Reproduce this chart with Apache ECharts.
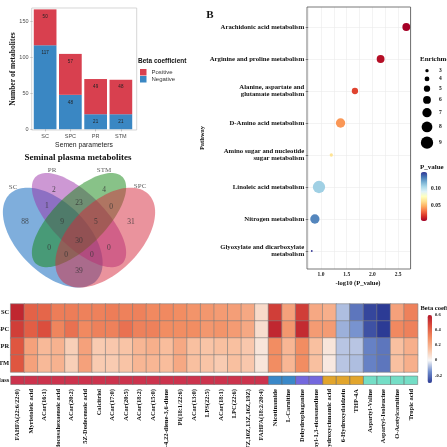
<!DOCTYPE html>
<html><head><meta charset="utf-8">
<script src="https://cdn.jsdelivr.net/npm/echarts@6/dist/echarts.min.js"></script>
<style>html,body{margin:0;padding:0;background:#fff}#c{width:447px;height:447px}</style>
</head><body><div id="c"></div>
<script>
// ---------- DATA ----------
// Panel A: stacked bars
const semenParams = ['SC', 'SPC', 'PR', 'STM'];
const negativeCounts = [117, 48, 21, 21];
const positiveCounts = [50, 57, 49, 48];
const barYTicks = [0, 50, 100, 150];

// Venn diagram
const vennSets = ['SC', 'PR', 'STM', 'SPC'];
const vennRegions = ['SC', 'PR', 'STM', 'SPC', 'SC&PR', 'PR&STM', 'STM&SPC', 'SC&PR&STM', 'PR&STM&SPC',
  'SC&PR&STM&SPC', 'SC&STM', 'PR&SPC', 'SC&STM&SPC', 'SC&PR&SPC', 'SC&SPC'];
const vennCounts = [88, 2, 4, 31, 1, 23, 0, 9, 5, 30, 0, 0, 0, 0, 39];

// Panel B: pathway enrichment
const pathways = ['Arachidonic acid metabolism', 'Arginine and proline metabolism',
  'Alanine, aspartate and\nglutamate metabolism', 'D-Amino acid metabolism',
  'Amino sugar and nucleotide\nsugar metabolism', 'Linoleic acid metabolism',
  'Nitrogen metabolism', 'Glyoxylate and dicarboxylate\nmetabolism'];
const negLog10P = [2.66, 2.16, 1.66, 1.38, 1.20, 0.96, 0.88, 0.82];
const enrichment = [6, 6, 5, 7, 3, 9, 7, 2];
const enrichmentLegend = [3, 4, 5, 6, 7, 8, 9];
const pLegendTicks = [0.10, 0.05];

// Heatmap
const metabolites = ['FAHFA(22:6/22:0)', 'Myristoleic acid', 'ACar(16:1)', '4-Hydroxydocosahexaenoic acid',
  'ACar(20:2)', '5Z-Dodecenoic acid', 'Calcitriol', 'ACar(17:0)', 'ACar(20:5)', 'ACar(18:2)',
  'ACar(15:0)', 'Cholesta-4,22-diene-3,6-dione', 'PI(18:1/22:6)', 'ACar(13:0)', 'LPS(22:5)',
  'ACar(18:1)', 'LPC(22:6)', 'LysoPC(4Z,7Z,10Z,13Z,16Z,19Z)', 'FAHFA(18:2/20:4)', 'Nicotinamide',
  'L-Carnitine', 'Dehydrophaganine', '1-Phenyl-1,3-eicosanedione', '4-Hydroxycinnamic acid',
  '6-Hydroxydaidzein', 'THP-4A', 'Aspartyl-Valine', 'Aspartyl-Isoleucine', 'O-Acetylcarnitine', 'Tropic acid'];
const heatRows = ['SC', 'SPC', 'PR', 'STM'];
const betaSC  = [0.56, 0.41, 0.40, 0.34, 0.34, 0.33, 0.33, 0.34, 0.33, 0.33, 0.31, 0.31, 0.30, 0.28, 0.27,
  0.26, 0.25, 0.22, 0.08, 0.50, 0.24, 0.50, 0.22, 0.20, -0.08, -0.19, -0.28, -0.30, 0.24, 0.33];
const betaSPC = [0.50, 0.42, 0.46, 0.32, 0.37, 0.31, 0.33, 0.33, 0.37, 0.33, 0.33, 0.30, 0.30, 0.30, 0.27,
  0.28, 0.26, 0.22, 0.07, 0.56, 0.27, 0.55, 0.26, 0.26, -0.10, -0.14, -0.26, -0.30, 0.31, 0.33];
const betaPR  = [0.44, 0.24, 0.17, 0.19, 0.11, 0.24, 0.12, 0.13, 0.14, 0.18, 0.20, 0.16, 0.22, 0.15, 0.14,
  0.15, 0.15, 0.13, 0.05, 0.30, 0.18, 0.30, 0.15, 0.05, -0.07, -0.07, -0.17, -0.19, 0.15, 0.20];
const betaSTM = [0.44, 0.24, 0.17, 0.19, 0.11, 0.24, 0.12, 0.12, 0.14, 0.18, 0.18, 0.16, 0.22, 0.15, 0.14,
  0.12, 0.15, 0.13, 0.05, 0.30, 0.18, 0.30, 0.15, 0.04, -0.07, -0.08, -0.17, -0.19, 0.15, 0.20];
const classNames = ['Lipids and lipid-like molecules', 'Organoheterocyclic compounds', 'Organic oxygen compounds',
  'Phenylpropanoids and polyketides', 'Organic acids and derivatives'];
const metaboliteClass = [0,0,0,0,0,0,0,0,0,0,0,0,0,0,0,0,0,0,0,1,1,2,2,3,3,3,4,4,4,4];
const betaTicks = [0.6, 0.4, 0.2, 0, -0.2];

// ---------- STYLE / LAYOUT ----------
const SERIF = "'Liberation Serif','DejaVu Serif',serif";
const SANS = "'Liberation Sans','DejaVu Sans',sans-serif";
const classColors = ['#cc334d', '#3a88c8', '#7468de', '#e2a52c', '#74dec6'];
const vennColors = ['rgb(0,93,186)', 'rgb(155,50,170)', 'rgb(17,133,17)', 'rgb(213,40,60)'];
const vennOpacity = 0.5;
const vennEllipses = [ // unit coords: cx, cy, a, b, rotation(deg, y-up)
  [0.35, 0.47, 0.35, 0.20, 135], [0.50, 0.57, 0.35, 0.15, 135],
  [0.50, 0.57, 0.35, 0.15, 45], [0.65, 0.47, 0.35, 0.20, 45]];
const vennLabelPos = [[0.191,0.559],[0.357,0.742],[0.643,0.742],[0.797,0.559],[0.317,0.652],[0.5,0.667],
  [0.683,0.645],[0.403,0.559],[0.597,0.559],[0.5,0.453],[0.329,0.41],[0.671,0.41],[0.426,0.37],[0.574,0.368],[0.5,0.28]];
const vennSetPos = [[0.123,0.758],[0.346,0.856],[0.643,0.856],[0.849,0.765]];
const sizeOf = v => 1.5 * v - 1.2;
const heatColors = ['#2c3b95', '#6f8ccc', '#f7f7f7', '#f9c0a0', '#f28d62', '#de523e', '#b5172b'];
const rdylbu = ['#a50026','#d73027','#f46d43','#fdae61','#fee090','#ffffbf','#e0f3f8','#abd9e9','#74add1','#4575b4','#313695'];

const pValues = negLog10P.map(x => Math.pow(10, -x));
const pMin = Math.min(...pValues), pMax = Math.max(...pValues);

function txt(x, y, text, font, opts) {
  opts = opts || {};
  return {type: 'text', x: x, y: y, rotation: opts.rot || 0, silent: true,
    style: {text: text, font: font, fill: opts.color || '#111',
      align: opts.align || 'center', textAlign: opts.align || 'center',
      verticalAlign: 'middle', textVerticalAlign: 'middle'}};
}

const graphics = [
  {type: 'rect', shape: {x: 31.7, y: 8, width: 105, height: 122}, style: {fill: 'none', stroke: '#c4c4c4', lineWidth: 0.7}, z: 10, silent: true},
  {type: 'rect', shape: {x: 307, y: 7, width: 103.5, height: 262}, style: {fill: 'none', stroke: '#555', lineWidth: 0.8}, z: 10, silent: true},
  txt(13, 69, 'Number of metabolites', 'bold 7.5px ' + SERIF, {rot: Math.PI / 2}),
  txt(84, 145, 'Semen parameters', '6.8px ' + SANS, {color: '#222'}),
  txt(138, 61, 'Beta coefficient', 'bold 6.5px ' + SANS, {align: 'left'}),
  txt(78, 158, 'Seminal plasma metabolites', 'bold 9px ' + SERIF),
  txt(210, 15, 'B', 'bold 11px ' + SERIF),
  txt(202, 138, 'Pathway', 'bold 6.5px ' + SERIF, {rot: Math.PI / 2}),
  txt(358, 283.5, '-log10 (P_value)', 'bold 6.5px ' + SERIF),
  txt(420, 59, 'Enrichment', 'bold 7px ' + SERIF, {align: 'left'}),
  txt(420, 167, 'P_value', 'bold 7px ' + SERIF, {align: 'left'}),
  txt(420.5, 308, 'Beta coefficient', 'bold 6.5px ' + SERIF, {align: 'left'})
];
// size legend
let ly = 70.7;
enrichmentLegend.forEach((v, i) => {
  if (i > 0) ly += (sizeOf(enrichmentLegend[i - 1]) + sizeOf(v)) / 2 + 4.2;
  graphics.push({type: 'circle', shape: {cx: 427, cy: ly, r: sizeOf(v) / 2}, style: {fill: '#000'}, silent: true});
  graphics.push(txt(439, ly, String(v), 'bold 5.5px ' + SERIF, {align: 'left'}));
});
// P colorbar ticks
const pBar = {left: 420.7, top: 172, w: 6.6, h: 49};
pLegendTicks.forEach(v => {
  const y = pBar.top + (pMax - v) / (pMax - pMin) * pBar.h;
  graphics.push(txt(431, y, v.toFixed(2), 'bold 5.5px ' + SERIF, {align: 'left'}));
});
// beta colorbar ticks
const bBar = {left: 427.5, top: 315, w: 4.5, h: 68, min: -0.3, max: 0.6};
betaTicks.forEach(v => {
  const y = bBar.top + (bBar.max - v) / (bBar.max - bBar.min) * bBar.h;
  graphics.push(txt(435, y, String(v), 'bold 4.5px ' + SERIF, {align: 'left'}));
});

// heatmap data
const betaRows = [betaSC, betaSPC, betaPR, betaSTM];
const heatData = [];
betaRows.forEach((row, r) => row.forEach((v, c) => heatData.push([c, r, v])));
const classData = metaboliteClass.map((k, c) => [c, 0, k]);

const hidden = {show: false};
const rowLabel = {fontSize: 6.5, fontFamily: SERIF, fontWeight: 'bold', color: '#111', margin: 1.5};
const G = g => Object.assign({outerBoundsMode: 'none', containLabel: false}, g);
const option = {
  animation: false,
  backgroundColor: '#fff',
  graphic: graphics,
  legend: {data: ['Positive', 'Negative'], orient: 'vertical', left: 140, top: 69, padding: 0,
    itemWidth: 6.5, itemHeight: 6.5, itemGap: 0.5, icon: 'rect',
    textStyle: {fontSize: 6, fontFamily: SANS, color: '#333'}},
  grid: [
    G({left: 32.5, top: 8.3, width: 101, height: 121}),
    G({left: 308.2, top: 7, width: 102.7, height: 262}),
    G({left: 308.2, top: 27, width: 102.7, height: 224}),
    G({left: 0.25, top: 167.6, width: 157.5, height: 126}),
    G({left: 10.7, top: 304, width: 407, height: 68}),
    G({left: 10.7, top: 376, width: 407, height: 8.5})
  ],
  xAxis: [
    {type: 'category', gridIndex: 0, data: semenParams, axisLine: hidden,
      axisTick: {show: true, length: 2, lineStyle: {color: '#888', width: 0.6}, alignWithLabel: true},
      axisLabel: {fontSize: 5.5, fontFamily: SANS, color: '#4d4d4d', margin: 4}},
    {type: 'value', gridIndex: 1, min: 0.75, max: 2.75, interval: 0.25, axisLine: hidden, axisTick: hidden,
      splitLine: {show: true, lineStyle: {color: '#ebebeb', width: 0.6}},
      axisLabel: {fontSize: 5.5, fontFamily: SERIF, fontWeight: 'bold', color: '#222', margin: 3,
        formatter: v => (Math.abs(v * 2 - Math.round(v * 2)) < 1e-6 ? v.toFixed(1) : '')}},
    {type: 'value', gridIndex: 2, min: 0.75, max: 2.75, show: false},
    {type: 'value', gridIndex: 3, min: 0.05, max: 0.95, show: false},
    {type: 'category', gridIndex: 4, data: metabolites, show: false},
    {type: 'category', gridIndex: 5, data: metabolites, axisLine: hidden, axisTick: hidden,
      axisLabel: {rotate: 90, interval: 0, margin: 4.5, fontSize: 6.5, fontFamily: SERIF, fontWeight: 'bold', color: '#111'}}
  ],
  yAxis: [
    {type: 'value', gridIndex: 0, min: 0, max: 168.5, interval: 50, axisLine: hidden,
      axisTick: {show: true, length: 2, lineStyle: {color: '#888', width: 0.6}}, splitLine: hidden,
      axisLabel: {fontSize: 5.5, fontFamily: SANS, color: '#4d4d4d', margin: 4, showMaxLabel: false,
        formatter: v => (barYTicks.indexOf(v) >= 0 ? String(v) : '')}},
    {type: 'value', gridIndex: 1, show: false},
    {type: 'category', gridIndex: 2, data: pathways, inverse: true, boundaryGap: false, axisLine: hidden,
      axisTick: {show: true, length: 2.5, lineStyle: {color: '#333', width: 0.6}},
      splitLine: {show: true, lineStyle: {color: '#ebebeb', width: 0.6}},
      axisLabel: {fontSize: 6.7, fontFamily: SERIF, fontWeight: 'bold', color: '#111', margin: 4, lineHeight: 7.5, align: 'right'}},
    {type: 'value', gridIndex: 3, min: 0.15, max: 0.87, show: false},
    {type: 'category', gridIndex: 4, data: heatRows, inverse: true, axisLine: hidden, axisTick: hidden, axisLabel: rowLabel},
    {type: 'category', gridIndex: 5, data: ['class'], axisLine: hidden, axisTick: hidden, axisLabel: rowLabel}
  ],
  visualMap: [
    {type: 'continuous', seriesIndex: 6, dimension: 2, min: bBar.min, max: bBar.max, calculable: false,
      left: bBar.left, top: bBar.top, itemWidth: bBar.w, itemHeight: bBar.h, padding: 0,
      inRange: {color: heatColors}},
    {type: 'continuous', seriesIndex: 2, dimension: 3, min: pMin, max: pMax, calculable: false,
      left: pBar.left, top: pBar.top, itemWidth: pBar.w, itemHeight: pBar.h, padding: 0,
      inRange: {color: rdylbu}}
  ],
  series: [
    {name: 'Negative', type: 'bar', stack: 'n', xAxisIndex: 0, yAxisIndex: 0, data: negativeCounts, barWidth: 22.7,
      itemStyle: {color: '#3a87c3'},
      label: {show: true, position: 'insideTop', distance: 5, fontSize: 4.5, fontFamily: SANS, color: '#222'}},
    {name: 'Positive', type: 'bar', stack: 'n', xAxisIndex: 0, yAxisIndex: 0, data: positiveCounts, barWidth: 22.7,
      itemStyle: {color: '#d8404f'},
      label: {show: true, position: 'insideTop', distance: 5, fontSize: 4.5, fontFamily: SANS, color: '#222'}},
    {name: 'pathway', type: 'scatter', xAxisIndex: 2, yAxisIndex: 2,
      data: pathways.map((p, i) => [negLog10P[i], i, enrichment[i], pValues[i]]),
      symbolSize: v => sizeOf(v[2]), itemStyle: {opacity: 1}},
    {name: 'venn', type: 'custom', xAxisIndex: 3, yAxisIndex: 3,
      data: vennEllipses.map((e, i) => [e[0], e[1], e[2], e[3], e[4], i]),
      renderItem: function (params, api) {
        const cx = api.value(0), cy = api.value(1), a = api.value(2), b = api.value(3);
        const r = api.value(4) * Math.PI / 180;
        const pts = [];
        for (let t = 0; t < 120; t++) {
          const th = t / 120 * 2 * Math.PI;
          const x = cx + a * Math.cos(th) * Math.cos(r) - b * Math.sin(th) * Math.sin(r);
          const y = cy + a * Math.cos(th) * Math.sin(r) + b * Math.sin(th) * Math.cos(r);
          pts.push(api.coord([x, y]));
        }
        return {type: 'polygon', shape: {points: pts}, style: {fill: vennColors[api.value(5)], opacity: vennOpacity}};
      }},
    {name: 'vennCounts', type: 'scatter', xAxisIndex: 3, yAxisIndex: 3, symbolSize: 0.1, z: 5,
      itemStyle: {color: 'transparent'},
      data: vennCounts.map((c, i) => [vennLabelPos[i][0], vennLabelPos[i][1], c]),
      label: {show: true, position: 'inside', formatter: p => String(p.value[2]),
        fontSize: 7.5, fontFamily: SERIF, color: '#333'}},
    {name: 'vennSets', type: 'scatter', xAxisIndex: 3, yAxisIndex: 3, symbolSize: 0.1, z: 5,
      itemStyle: {color: 'transparent'},
      data: vennSets.map((s, i) => [vennSetPos[i][0], vennSetPos[i][1], s]),
      label: {show: true, position: 'inside', formatter: p => p.value[2],
        fontSize: 7, fontFamily: SERIF, color: '#333'}},
    {name: 'beta', type: 'heatmap', xAxisIndex: 4, yAxisIndex: 4, data: heatData,
      itemStyle: {borderColor: '#808080', borderWidth: 0.6}},
    {name: 'class', type: 'custom', xAxisIndex: 5, yAxisIndex: 5, data: classData,
      renderItem: function (params, api) {
        const c = api.coord([api.value(0), api.value(1)]);
        const s = api.size([1, 1]);
        return {type: 'rect', shape: {x: c[0] - s[0] / 2, y: c[1] - s[1] / 2, width: s[0], height: s[1]},
          style: {fill: classColors[api.value(2)], stroke: '#606060', lineWidth: 0.5}};
      }}
  ]
};
const chart = echarts.init(document.getElementById('c'));
chart.setOption(option);
</script>
</body></html>
